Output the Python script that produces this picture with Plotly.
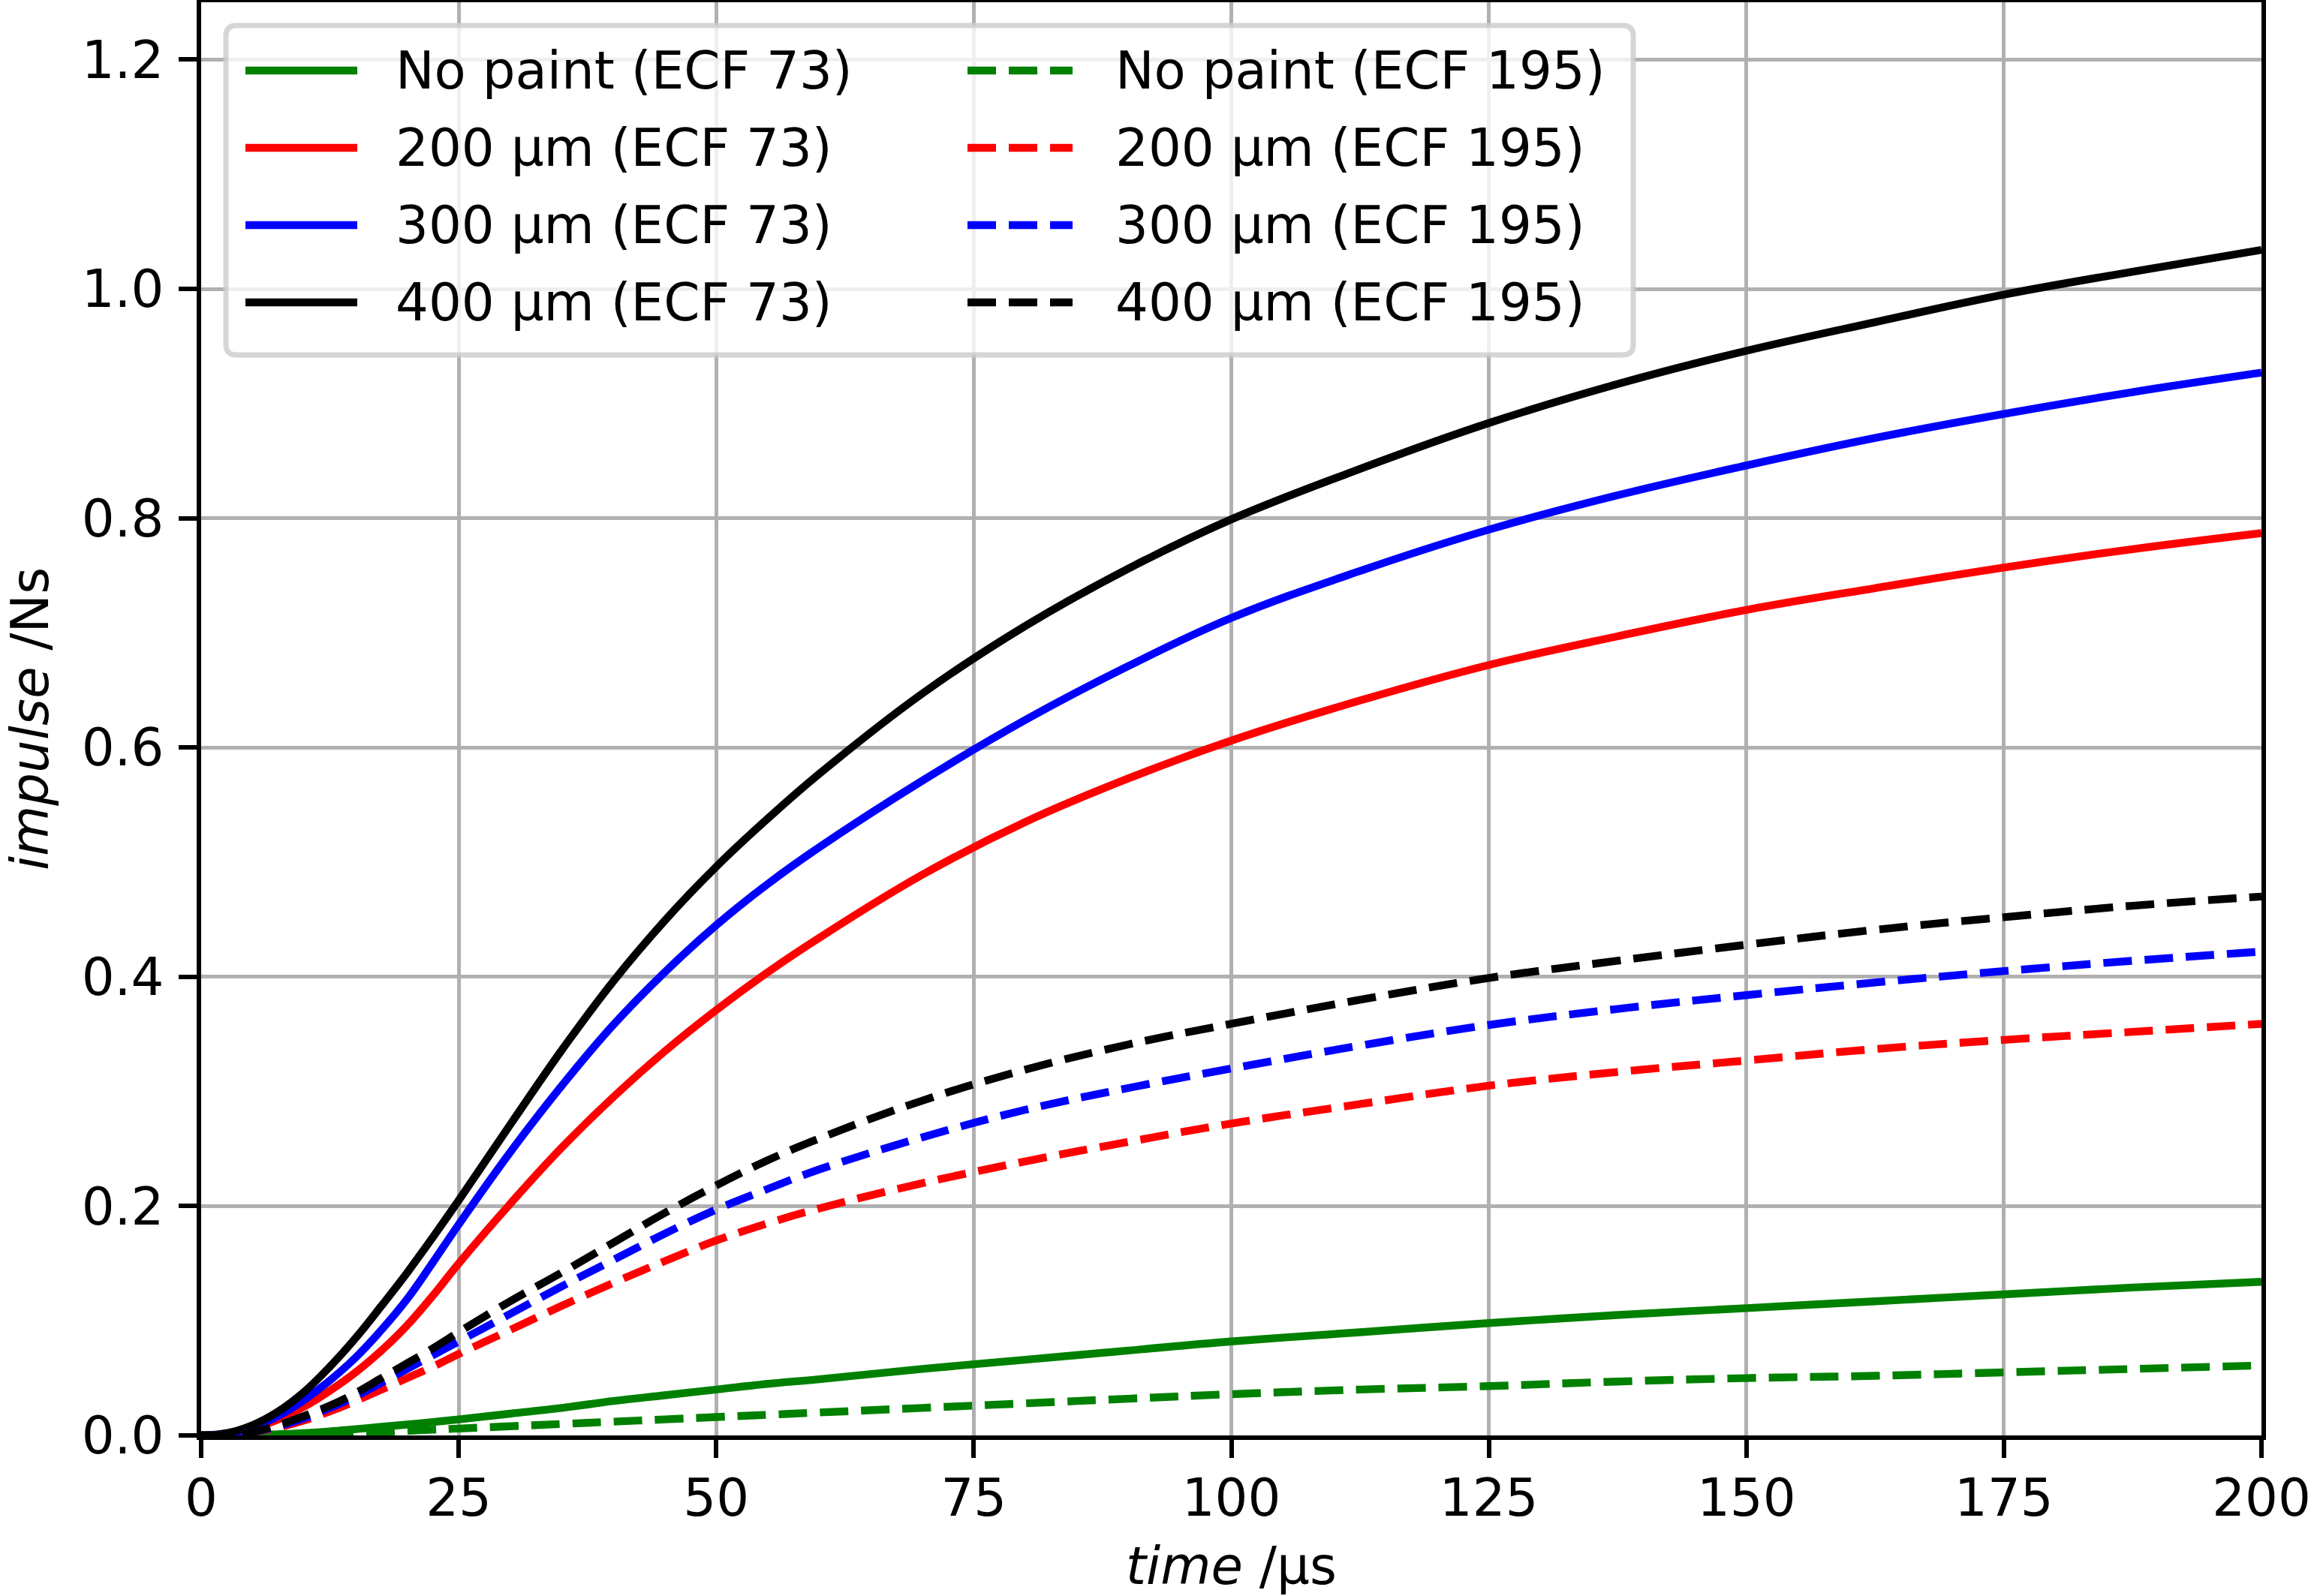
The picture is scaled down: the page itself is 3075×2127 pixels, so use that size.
import plotly.graph_objects as go

# ---------------- data ----------------
time_us = [0, 2.5, 5, 7.5, 10, 12.5, 15, 17.5, 20, 22.5, 25, 30, 35, 40, 45, 50, 55, 60,
           70, 80, 90, 100, 112.5, 125, 137.5, 150, 162.5, 175, 187.5, 200]

nopaint_ecf73 = [0, 0, 0.0003, 0.001, 0.002, 0.0035, 0.0055, 0.0075, 0.0095, 0.0117, 0.014, 0.019,
                 0.024, 0.030, 0.035, 0.040, 0.045, 0.049, 0.058, 0.066, 0.074, 0.082, 0.090,
                 0.098, 0.105, 0.111, 0.117, 0.123, 0.129, 0.134]
um200_ecf73 = [0, 0.001, 0.006, 0.014, 0.025, 0.039, 0.055, 0.074, 0.096, 0.122, 0.150, 0.202,
               0.251, 0.295, 0.335, 0.371, 0.404, 0.434, 0.489, 0.535, 0.573, 0.606, 0.641,
               0.672, 0.697, 0.720, 0.739, 0.757, 0.773, 0.787]
um300_ecf73 = [0, 0.001, 0.007, 0.017, 0.031, 0.048, 0.068, 0.092, 0.119, 0.151, 0.184, 0.247,
               0.305, 0.358, 0.404, 0.445, 0.481, 0.513, 0.571, 0.624, 0.671, 0.713, 0.754,
               0.790, 0.820, 0.846, 0.870, 0.891, 0.910, 0.927]
um400_ecf73 = [0, 0.002, 0.009, 0.021, 0.038, 0.060, 0.085, 0.113, 0.142, 0.173, 0.205, 0.271,
               0.336, 0.396, 0.449, 0.496, 0.538, 0.577, 0.647, 0.706, 0.756, 0.799, 0.843,
               0.883, 0.917, 0.946, 0.971, 0.995, 1.015, 1.034]

nopaint_ecf195 = [0, 0, 0.0001, 0.0004, 0.001, 0.0015, 0.0022, 0.003, 0.004, 0.005, 0.006, 0.008,
                  0.010, 0.012, 0.014, 0.016, 0.018, 0.020, 0.024, 0.028, 0.032, 0.036, 0.040,
                  0.043, 0.047, 0.050, 0.052, 0.055, 0.058, 0.061]
um200_ecf195 = [0, 0.0005, 0.003, 0.007, 0.013, 0.021, 0.030, 0.040, 0.050, 0.060, 0.071, 0.092,
                0.113, 0.133, 0.152, 0.170, 0.185, 0.198, 0.220, 0.239, 0.256, 0.272, 0.289,
                0.305, 0.317, 0.327, 0.337, 0.345, 0.352, 0.359]
um300_ecf195 = [0, 0.0005, 0.003, 0.008, 0.015, 0.024, 0.034, 0.046, 0.058, 0.070, 0.082, 0.106,
                0.130, 0.153, 0.176, 0.197, 0.215, 0.232, 0.260, 0.284, 0.303, 0.320, 0.340,
                0.358, 0.372, 0.384, 0.395, 0.405, 0.414, 0.422]
um400_ecf195 = [0, 0.0005, 0.003, 0.009, 0.017, 0.026, 0.037, 0.050, 0.063, 0.076, 0.090, 0.117,
                0.142, 0.168, 0.194, 0.218, 0.240, 0.259, 0.292, 0.319, 0.341, 0.359, 0.380,
                0.399, 0.414, 0.428, 0.441, 0.452, 0.462, 0.470]

labels_73 = ["No paint (ECF 73)", "200 µm (ECF 73)", "300 µm (ECF 73)", "400 µm (ECF 73)"]
labels_195 = ["No paint (ECF 195)", "200 µm (ECF 195)", "300 µm (ECF 195)", "400 µm (ECF 195)"]
colors = ["green", "red", "blue", "black"]

x_ticks = [0, 25, 50, 75, 100, 125, 150, 175, 200]
y_ticks = [0.0, 0.2, 0.4, 0.6, 0.8, 1.0, 1.2]

# ---------------- geometry ----------------
W, H = 3075, 2127
L, R, T, B = 268, 62, 3, 214
PW = W - L - R
PH = H - T - B
FONT = "DejaVu Sans"
FS = 69
LW = 10.4
DASH = "38px,17px"
SMOOTH = 1.1


def fx(px):
    return (px - L) / PW


def fy(py):
    return (H - B - py) / PH


fig = go.Figure()

series_73 = [nopaint_ecf73, um200_ecf73, um300_ecf73, um400_ecf73]
series_195 = [nopaint_ecf195, um200_ecf195, um300_ecf195, um400_ecf195]

for name, ys, c in zip(labels_73, series_73, colors):
    fig.add_trace(go.Scatter(x=time_us, y=ys, mode="lines", name=name,
                             line=dict(color=c, width=LW, shape="spline", smoothing=SMOOTH),
                             showlegend=False))
for name, ys, c in zip(labels_195, series_195, colors):
    fig.add_trace(go.Scatter(x=time_us, y=ys, mode="lines", name=name,
                             line=dict(color=c, width=LW, dash=DASH, shape="spline",
                                       smoothing=SMOOTH),
                             showlegend=False))

# ---------------- manual legend (matplotlib style) ----------------
shapes = []
annotations = []
bx0, bx1, by0, by1 = 301, 2176, 34, 473
r = 14
x0, x1 = fx(bx0), fx(bx1)
yt, yb = fy(by0), fy(by1)
rx, ry = r / PW, r / PH
path = (f"M {x0+rx},{yt} L {x1-rx},{yt} Q {x1},{yt} {x1},{yt-ry} "
        f"L {x1},{yb+ry} Q {x1},{yb} {x1-rx},{yb} L {x0+rx},{yb} "
        f"Q {x0},{yb} {x0},{yb+ry} L {x0},{yt-ry} Q {x0},{yt} {x0+rx},{yt} Z")
shapes.append(dict(type="path", path=path, xref="paper", yref="paper", layer="above",
                   fillcolor="rgba(255,255,255,0.8)",
                   line=dict(color="rgba(204,204,204,0.8)", width=7)))

row_y = [94, 197, 300, 403]
for i in range(4):
    yy = fy(row_y[i])
    shapes.append(dict(type="line", xref="paper", yref="paper", layer="above",
                       x0=fx(327), x1=fx(476), y0=yy, y1=yy,
                       line=dict(color=colors[i], width=LW)))
    annotations.append(dict(text=labels_73[i], xref="paper", yref="paper", x=fx(525), y=yy,
                            xanchor="left", yanchor="middle", showarrow=False,
                            font=dict(family=FONT, size=FS, color="black")))
    shapes.append(dict(type="line", xref="paper", yref="paper", layer="above",
                       x0=fx(1289), x1=fx(1429), y0=yy, y1=yy,
                       line=dict(color=colors[i], width=LW, dash=DASH)))
    annotations.append(dict(text=labels_195[i], xref="paper", yref="paper", x=fx(1484), y=yy,
                            xanchor="left", yanchor="middle", showarrow=False,
                            font=dict(family=FONT, size=FS, color="black")))

axis_common = dict(showline=True, linecolor="black", linewidth=5.5, mirror=True,
                   ticks="outside", ticklen=24, tickwidth=5.5, tickcolor="black",
                   showgrid=True, gridcolor="#b0b0b0", gridwidth=4.5, zeroline=False,
                   tickfont=dict(family=FONT, size=FS, color="black"),
                   ticklabeloverflow="allow", automargin=False)

fig.update_layout(
    width=W, height=H,
    margin=dict(l=L, r=R, t=T, b=B, pad=0),
    paper_bgcolor="white", plot_bgcolor="white",
    font=dict(family=FONT, size=FS, color="black"),
    showlegend=False,
    shapes=shapes,
    annotations=annotations,
    xaxis=dict(range=[-1e-6, 200 + 1e-6], tickvals=x_ticks, ticktext=[str(v) for v in x_ticks],
               title=dict(text="<i>time</i> /µs", font=dict(family=FONT, size=FS), standoff=40),
               ticklabelstandoff=-6, **axis_common),
    yaxis=dict(range=[-1e-9, 1.25], tickvals=y_ticks, ticktext=[f"{v:.1f}" for v in y_ticks],
               title=dict(text="<i>impulse</i> /Ns", font=dict(family=FONT, size=FS), standoff=36),
               ticklabelstandoff=6, **axis_common),
)

fig.write_html("out.html")
